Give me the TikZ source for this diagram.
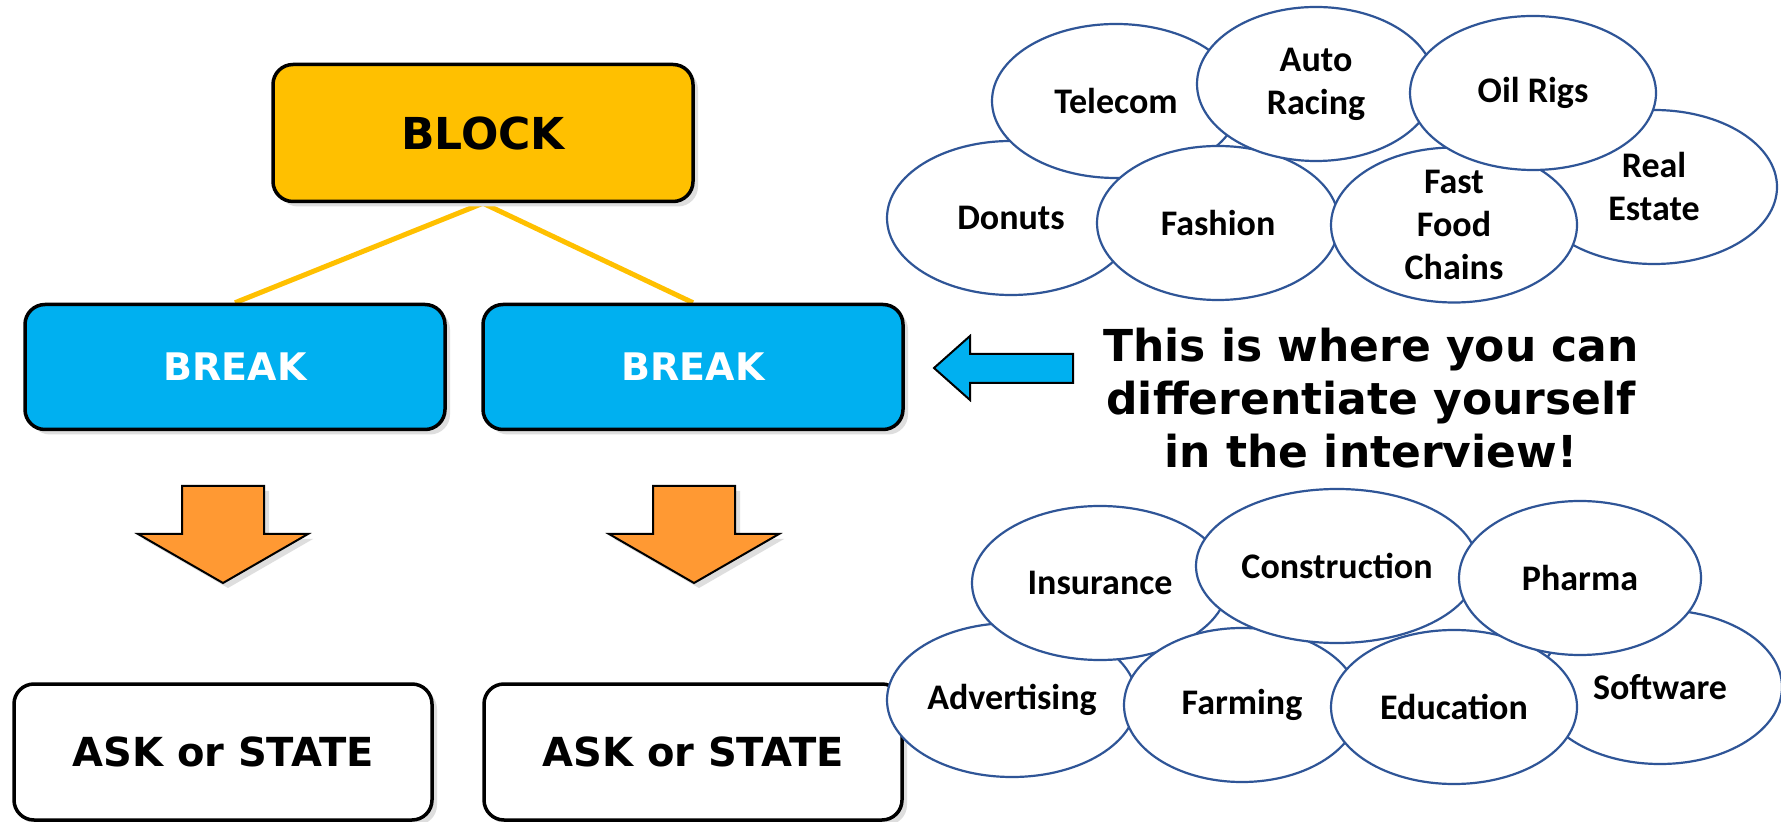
\documentclass[tikz,border=0pt]{standalone}
\usepackage{fontspec}
\setmainfont{DejaVu Sans}
\newfontfamily\bubfont{Carlito}
\usetikzlibrary{shapes.geometric, shadows, backgrounds}
\definecolor{cBlock}{RGB}{255, 192, 0}
\definecolor{cBreak}{RGB}{0, 176, 240}
\definecolor{cDown}{RGB}{255, 153, 51}
\definecolor{bBubble}{RGB}{47, 85, 151}
\definecolor{cShadow}{RGB}{222, 222, 222}

\begin{document}
\begin{tikzpicture}[
    x=0.5pt, y=-0.5pt,
    font=\bfseries,
    softshadow/.style={drop shadow={shadow xshift=2.5pt, shadow yshift=-2.5pt, fill=cShadow, opacity=1}},
    card/.style={
        draw=black,
        line width=1.75pt,
        rounded corners=10pt,
        minimum width=210pt,
        inner sep=0pt,
        softshadow
    },
    bub/.style={
        ellipse,
        draw=bBubble,
        line width=1.1pt,
        fill=white,
        minimum width=#1,
        minimum height=77pt,
        inner sep=0pt,
        align=center,
        font=\bubfont\bfseries\fontsize{18}{21.5}\selectfont
    },
    bub/.default=122pt,
    link/.style={draw=cBlock, line width=2.5pt},
    blockarrow/.style={draw=black, line width=1pt, line join=miter}
]
\useasboundingbox (0,0) rectangle (1781,822);

% left column: block, breaks, asks
\node[card, fill=cBlock, minimum height=68.5pt, font=\bfseries\fontsize{22}{26}\selectfont] (blk) at (483,133) {BLOCK};

\node[card, fill=cBreak, text=white, minimum height=62.5pt, font=\bfseries\fontsize{19}{23}\selectfont] (brk1) at (235,367) {BREAK};
\node[card, fill=cBreak, text=white, minimum height=62.5pt, font=\bfseries\fontsize{19}{23}\selectfont] (brk2) at (693,367) {BREAK};

\node[card, fill=white, minimum width=209pt, minimum height=68pt, font=\bfseries\fontsize{20}{24}\selectfont] (ask1) at (223,752) {ASK or STATE};
\node[card, fill=white, minimum width=209pt, minimum height=68pt, font=\bfseries\fontsize{20}{24}\selectfont] (ask2) at (693,752) {ASK or STATE};

% orange down arrows between breaks and asks
\foreach \cx in {223,694}
    \draw[blockarrow, fill=cDown, softshadow] (\cx-41,486) -- (\cx+41,486) -- (\cx+41,534) -- (\cx+85,534)
        -- (\cx,583) -- (\cx-85,534) -- (\cx-41,534) -- cycle;

% industries, upper cloud
\node[bub=124pt] (donuts) at (1011,218) {Donuts};
\node[bub=124pt] (telecom) at (1116,101) {Telecom};
\node[bub=121pt] (fashion) at (1218,223) {Fashion};
\node[bub=119pt] (auto) at (1316,84) {Auto\\Racing};
\node[bub=123pt] (realest) at (1654,187) {Real\\Estate};
\node[bub=123pt] (fastfood) at (1454,225) {Fast\\Food\\Chains};
\node[bub=123pt] (oil) at (1533,93) {Oil Rigs};

% industries, lower cloud
\node[bub=125pt] (advert) at (1012,700) {Advertising};
\node[bub=128pt] (insur) at (1100,583) {Insurance};
\node[bub=122pt] (softw) at (1660,687) {Software};
\node[bub=118pt] (farm) at (1242,705) {Farming};
\node[bub=141pt] (constr) at (1337,566) {Construction};
\node[bub=123pt] (educ) at (1454,707) {Education};
\node[bub=121pt] (pharma) at (1580,578) {Pharma};

% message and pointer
\node[font=\bfseries\fontsize{22}{26.5}\selectfont, align=center] (msg) at (1371,398) {This is where you can\\differentiate yourself\\in the interview!};

\draw[blockarrow, fill=cBreak] (934,368) -- (970,336) -- (970,354) -- (1073,354) -- (1073,383)
    -- (970,383) -- (970,400) -- cycle;

\begin{scope}[on background layer]
\fill[white] (0,0) rectangle (1781,822);
\draw[link] (blk.south) -- (brk1.north);
\draw[link] (blk.south) -- (brk2.north);
\end{scope}

\end{tikzpicture}
\end{document}
